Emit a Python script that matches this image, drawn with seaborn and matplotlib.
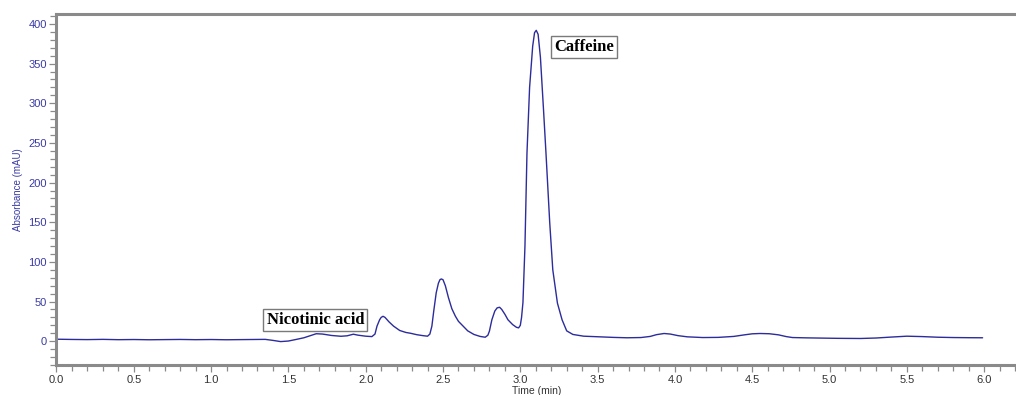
import matplotlib
matplotlib.use("Agg")
import matplotlib.pyplot as plt
from matplotlib.ticker import MultipleLocator
import numpy as np
import pandas as pd
import seaborn as sns

# Chromatogram trace: retention time (min) and detector absorbance (mAU)
time_min = [
    0.00, 0.10, 0.20, 0.30, 0.40, 0.50, 0.60, 0.70, 0.80, 0.90,
    1.00, 1.10, 1.20, 1.30, 1.35, 1.40, 1.45, 1.50, 1.55, 1.60,
    1.65, 1.68, 1.72, 1.78, 1.84, 1.88, 1.92, 1.95, 2.00, 2.04,
    2.06, 2.073, 2.09, 2.10, 2.112, 2.125, 2.15, 2.18, 2.22, 2.26,
    2.29, 2.33, 2.37, 2.40, 2.415, 2.428, 2.44, 2.456, 2.47, 2.48,
    2.489, 2.50, 2.515, 2.535, 2.557, 2.58, 2.60, 2.63, 2.66, 2.70,
    2.74, 2.773, 2.79, 2.80, 2.816, 2.835, 2.85, 2.866, 2.88, 2.90,
    2.92, 2.95, 2.975, 2.989, 3.000, 3.008, 3.017, 3.03, 3.043, 3.06,
    3.08, 3.092, 3.103, 3.115, 3.13, 3.15, 3.166, 3.19, 3.21, 3.24,
    3.27, 3.30, 3.34, 3.41, 3.50, 3.60, 3.69, 3.78, 3.84, 3.88,
    3.93, 3.97, 4.02, 4.08, 4.18, 4.28, 4.38, 4.45, 4.50, 4.55,
    4.61, 4.67, 4.72, 4.76, 4.85, 4.95, 5.05, 5.20, 5.30, 5.40,
    5.50, 5.60, 5.70, 5.80, 5.90, 5.99,
]
absorbance_mau = [
    2.5, 2.2, 2.0, 2.3, 1.9, 2.1, 1.8, 2.0, 2.2, 1.9,
    2.1, 1.8, 2.0, 2.2, 2.3, 1.0, -0.5, 0.2, 2.2, 4.3,
    7.5, 9.4, 9.0, 7.2, 6.2, 6.8, 8.8, 7.6, 6.3, 5.8,
    9.0, 19.0, 27.0, 30.0, 31.4, 30.0, 24.5, 19.0, 13.5, 11.0,
    10.0, 8.2, 7.0, 6.3, 9.0, 19.0, 38.0, 61.0, 73.0, 77.5,
    78.5, 77.5, 70.0, 55.0, 41.0, 31.5, 25.0, 19.0, 13.0, 8.5,
    6.0, 5.0, 7.5, 12.6, 27.0, 38.0, 42.0, 42.8, 40.0, 34.0,
    27.0, 21.0, 17.5, 16.8, 20.0, 30.0, 48.7, 120.0, 237.0, 320.0,
    372.0, 389.0, 392.0, 387.0, 358.0, 292.0, 237.0, 150.0, 90.0, 48.0,
    27.0, 13.0, 8.5, 6.3, 5.6, 4.8, 4.3, 4.6, 6.0, 8.2,
    9.7, 9.0, 7.0, 5.5, 4.6, 4.8, 6.0, 8.0, 9.3, 9.7,
    9.4, 8.0, 5.8, 4.6, 4.2, 3.9, 3.6, 3.4, 4.0, 5.2,
    6.3, 5.8, 5.0, 4.6, 4.4, 4.3,
]

x_tick_values = [0.0, 0.5, 1.0, 1.5, 2.0, 2.5, 3.0, 3.5, 4.0, 4.5, 5.0, 5.5, 6.0]
y_tick_values = [0, 50, 100, 150, 200, 250, 300, 350, 400]

peak_names = ["Nicotinic acid", "Caffeine"]
peak_label_time = [1.674, 3.41]
peak_label_mau = [26.7, 371.0]

trace = pd.DataFrame({"Time (min)": time_min, "Absorbance (mAU)": absorbance_mau})

sns.set_theme(style="white")
plt.rcParams["font.family"] = ["Liberation Sans", "DejaVu Sans"]

fig = plt.figure(figsize=(10.16, 3.95), dpi=100)
ax = fig.add_axes([0.0556, 0.0760, 0.9444, 0.8886])

line_color = "#2c2c9c"
sns.lineplot(data=trace, x="Time (min)", y="Absorbance (mAU)", ax=ax,
             color=line_color, linewidth=1.0, estimator=None, sort=False)

ax.set_xlim(0.0, 6.206)
ax.set_ylim(-30, 412.6)

ax.set_xticks(x_tick_values)
ax.set_xticklabels([f"{v:.1f}" for v in x_tick_values])
ax.set_yticks(y_tick_values)
ax.set_yticklabels([str(v) for v in y_tick_values])
ax.xaxis.set_minor_locator(MultipleLocator(0.1))
ax.yaxis.set_minor_locator(MultipleLocator(10))

spine_color = "#8a8a8a"
for side in ("left", "bottom", "top"):
    ax.spines[side].set_color(spine_color)
    ax.spines[side].set_linewidth(2.2)
ax.spines["right"].set_visible(False)

ax.tick_params(axis="both", which="both", direction="out", color=spine_color,
               width=0.9, bottom=True, left=True, top=False, right=False)
ax.tick_params(axis="both", which="major", length=5.0, pad=2)
ax.tick_params(axis="both", which="minor", length=4.0)
ax.tick_params(axis="y", labelsize=8, labelcolor="#3a3aa6")
ax.tick_params(axis="x", labelsize=8, labelcolor="#333333")

ax.set_xlabel("Time (min)", fontsize=7.5, color="#333333", labelpad=1)
ax.set_ylabel("Absorbance (mAU)", fontsize=7, color="#3a3aa6", labelpad=4)

for name, t, v in zip(peak_names, peak_label_time, peak_label_mau):
    ax.text(t, v, name, ha="center", va="center", fontsize=12,
            fontweight="bold", family=["Liberation Serif", "DejaVu Serif"],
            color="black",
            bbox=dict(boxstyle="square,pad=0.2", facecolor="white",
                      edgecolor="#7a7a7a", linewidth=1.0))

fig.savefig("out.png", dpi=100, facecolor="white")
